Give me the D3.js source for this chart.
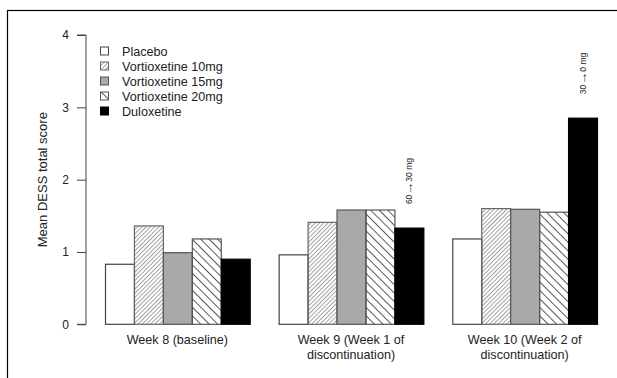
<!DOCTYPE html>
<html lang="en">
<head>
<meta charset="UTF-8">
<title>DESS bar chart</title>
<script src="https://cdn.jsdelivr.net/npm/d3@7/dist/d3.min.js"></script>
<style>
  body { margin: 0; background: #fff; }
  svg { display: block; font-family: "Liberation Sans", Arial, sans-serif; }
</style>
</head>
<body>
<div id="chart"></div>
<script>
// data
const weeks = ["Week 8 (baseline)", "Week 9 (Week 1 of discontinuation)", "Week 10 (Week 2 of discontinuation)"];
const weekLines = [["Week 8 (baseline)"], ["Week 9 (Week 1 of", "discontinuation)"], ["Week 10 (Week 2 of", "discontinuation)"]];
const treatments = ["Placebo", "Vortioxetine 10mg", "Vortioxetine 15mg", "Vortioxetine 20mg", "Duloxetine"];
const placebo = [0.83, 0.96, 1.18];
const vort10 = [1.36, 1.41, 1.60];
const vort15 = [0.99, 1.58, 1.59];
const vort20 = [1.18, 1.58, 1.55];
const duloxetine = [0.90, 1.33, 2.85];
const yTicks = [0, 1, 2, 3, 4];
const doseNotes = [null, ["60", "30 mg"], ["30", "0 mg"]];

const series = [placebo, vort10, vort15, vort20, duloxetine];
const fills = ["#fff", "url(#hatch10)", "#a9a9a9", "url(#hatch20)", "#000"];
const strokes = ["#444", "#666", "#555", "#555", "#000"];

const W = 617, H = 378;
const svg = d3.select("#chart").append("svg").attr("width", W).attr("height", H);

const defs = svg.append("defs");
defs.append("pattern").attr("id", "hatch10")
  .attr("patternUnits", "userSpaceOnUse").attr("width", 3).attr("height", 3)
  .attr("patternTransform", "rotate(45)")
  .append("line").attr("x1", 0).attr("y1", 0).attr("x2", 0).attr("y2", 3)
  .attr("stroke", "#555").attr("stroke-width", 1.1);
defs.append("pattern").attr("id", "hatch20")
  .attr("patternUnits", "userSpaceOnUse").attr("width", 6).attr("height", 6)
  .attr("patternTransform", "rotate(-45)")
  .append("line").attr("x1", 0).attr("y1", 0).attr("x2", 0).attr("y2", 6)
  .attr("stroke", "#111").attr("stroke-width", 1.4);

// outer frame (only top and left edges show)
svg.append("rect").attr("x", 7.5).attr("y", 10.5).attr("width", W).attr("height", H)
  .attr("fill", "none").attr("stroke", "#000").attr("stroke-width", 1.2);

const y = d3.scaleLinear().domain([0, 4]).range([324.3, 35]);
const x0 = d3.scaleBand().domain(weeks).range([105, 597]).paddingInner(1 / 6);
const x1 = d3.scaleBand().domain(treatments).range([0, x0.bandwidth()]);

// y axis
const yAxis = svg.append("g").attr("transform", "translate(86,0)")
  .call(d3.axisLeft(y).tickValues(yTicks).tickFormat(d3.format("d")).tickSize(9).tickPadding(8));
yAxis.select(".domain").attr("stroke", "#444").attr("d", `M-9,${y(0)}H0V${y(4)}H-9`);
yAxis.selectAll(".tick line").attr("stroke", "#444");
yAxis.selectAll(".tick text").attr("font-size", 12).attr("fill", "#222")
  .attr("font-family", "Liberation Sans, Arial, sans-serif");

svg.append("text")
  .attr("transform", `translate(47,${(y(0) + y(4)) / 2}) rotate(-90)`)
  .attr("text-anchor", "middle").attr("font-size", 13).attr("fill", "#222")
  .text("Mean DESS total score");

// bars
const groups = svg.append("g").selectAll("g").data(weeks).join("g")
  .attr("transform", d => `translate(${x0(d)},0)`);

groups.selectAll("rect")
  .data((w, gi) => treatments.map((t, ti) => ({ t, ti, v: series[ti][gi] })))
  .join("rect")
  .attr("x", d => x1(d.t) + 0.5)
  .attr("y", d => y(d.v))
  .attr("width", x1.bandwidth())
  .attr("height", d => y(0) - y(d.v))
  .attr("fill", d => fills[d.ti])
  .attr("stroke", d => strokes[d.ti])
  .attr("stroke-width", 1.2);

// dose notes above duloxetine bars, rotated, with a bigger arrow
weeks.forEach((w, gi) => {
  if (!doseNotes[gi]) return;
  const cx = x0(w) + x1("Duloxetine") + x1.bandwidth() / 2;
  const top = y(duloxetine[gi]) - 24;
  const t = svg.append("text")
    .attr("transform", `translate(${cx + 3},${top}) rotate(-90)`)
    .attr("text-anchor", "start").attr("font-size", 8.5).attr("fill", "#222");
  t.append("tspan").text(doseNotes[gi][0]);
  t.append("tspan").attr("font-size", 13).attr("dy", 1).text("\u2192");
  t.append("tspan").attr("dy", -1).text(doseNotes[gi][1]);
});

// x labels
weeks.forEach((w, gi) => {
  const t = svg.append("text").attr("text-anchor", "middle")
    .attr("font-size", 12.6).attr("fill", "#222");
  weekLines[gi].forEach((line, li) => {
    t.append("tspan").attr("x", x0(w) + x0.bandwidth() / 2).attr("y", 343.5 + li * 15.5).text(line);
  });
});

// legend
const legend = svg.append("g").selectAll("g").data(treatments).join("g")
  .attr("transform", (d, i) => `translate(100,${46.5 + i * 15})`);
legend.append("rect").attr("x", 0.5).attr("y", 0.5).attr("width", 8).attr("height", 8)
  .attr("fill", (d, i) => fills[i]).attr("stroke", (d, i) => strokes[i]).attr("stroke-width", 1);
legend.append("text").attr("x", 22).attr("y", 9.5).attr("font-size", 12.6).attr("fill", "#222")
  .text(d => d);
</script>
</body>
</html>
